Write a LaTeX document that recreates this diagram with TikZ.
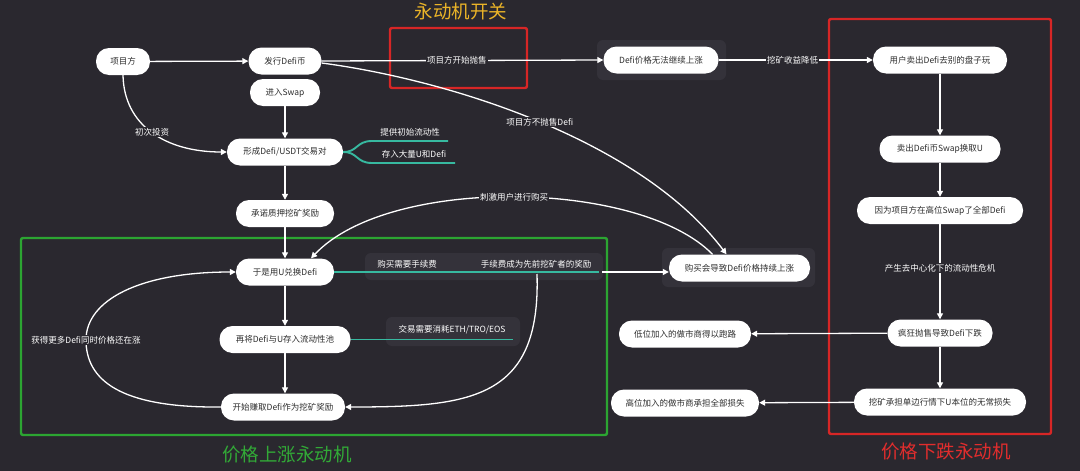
\documentclass[tikz,border=0pt]{standalone}
\usepackage{fontspec}
\setmainfont{Noto Sans CJK SC}
\usetikzlibrary{arrows.meta}
\definecolor{bg}{RGB}{42,40,47}
\definecolor{haloc}{RGB}{52,50,58}
\definecolor{tealc}{RGB}{55,185,160}
\definecolor{gboxc}{RGB}{44,165,50}
\definecolor{rboxc}{RGB}{215,38,38}
\definecolor{ytitle}{RGB}{235,180,40}
\definecolor{gtitle}{RGB}{50,170,55}
\definecolor{rtitle}{RGB}{225,45,45}
\definecolor{ntext}{RGB}{45,45,45}
\begin{document}
\begin{tikzpicture}[x=1pt,y=-1pt,
  box/.style={fill=white, rounded corners=13pt, minimum height=27pt, inner ysep=0pt, inner xsep=0pt,
     text=ntext, font=\fontsize{8.5}{10}\selectfont},
  lbl/.style={fill=bg, text=white, inner sep=1pt, font=\fontsize{8.5}{10}\selectfont},
  plain/.style={text=white, inner sep=1pt, font=\fontsize{8.5}{10}\selectfont},
  arr/.style={draw=white, line width=1.3pt, -{Triangle[width=6pt,length=6pt]}},
  tealln/.style={draw=tealc, line width=1.9pt},
  ttl/.style={font=\fontsize{18.5}{20}\selectfont},
  halo/.style={fill=haloc, rounded corners=6pt},
  frame/.style={line width=2.4pt, rounded corners=2pt}
]
\useasboundingbox (0,0) rectangle (1080,471);
\fill[bg] (0,0) rectangle (1080,471);

% halos
\fill[halo] (597,40) rectangle (726,80);
\fill[halo] (662,248) rectangle (815,287);
\fill[halo] (365,253) rectangle (603,280);
\fill[halo] (386,317) rectangle (520,346);

% frames
\draw[frame, draw=gboxc] (21,238) rectangle (607,435);
\draw[frame, draw=rboxc] (390,28) rectangle (527,88);
\draw[frame, draw=rboxc] (829,19) rectangle (1051,434);

% titles
\node[ttl, text=ytitle] (t1) at (461,12) {永动机开关};
\node[ttl, text=gtitle] (t2) at (287,455) {价格上涨永动机};
\node[ttl, text=rtitle] (t3) at (946,452) {价格下跌永动机};

% main column
\node[box, minimum width=54pt] (xmf) at (123,61.5) {项目方};
\node[box, minimum width=73pt] (fx) at (285,61) {发行Defi币};
\node[box, minimum width=70pt] (swap) at (285,92.5) {进入Swap};
\node[box, minimum width=116pt] (pair) at (285,152) {形成Defi/USDT交易对};
\node[box, minimum width=98pt] (cn) at (285,213.5) {承诺质押挖矿奖励};
\node[box, minimum width=98pt] (dh) at (285,272) {于是用U兑换Defi};
\node[box, minimum width=131pt] (cr) at (285,339.5) {再将Defi与U存入流动性池};
\node[box, minimum width=124pt] (ks) at (283,407) {开始赚取Defi作为挖矿奖励};

% middle / right
\node[box, minimum width=115pt] (wf) at (661,60) {Defi价格无法继续上涨};
\node[box, minimum width=141pt] (gm) at (739.5,268) {购买会导致Defi价格持续上涨};
\node[box, minimum width=134pt] (yh) at (940,60) {用户卖出Defi去别的盘子玩};
\node[box, minimum width=121pt] (mc) at (940,149) {卖出Defi币Swap换取U};
\node[box, minimum width=166pt] (yw) at (940,210.5) {因为项目方在高位Swap了全部Defi};
\node[box, minimum width=105pt] (fk) at (940,333) {疯狂抛售导致Defi下跌};
\node[box, minimum width=172pt] (wk) at (940,402) {挖矿承担单边行情下U本位的无常损失};
\node[box, minimum width=132pt] (dw) at (685,334) {低位加入的做市商得以跑路};
\node[box, minimum width=148pt] (gw) at (685,403) {高位加入的做市商承担全部损失};

% main column arrows
\draw[arr] (xmf) -- (fx);
\draw[arr] (swap) -- (pair);
\draw[arr] (pair) -- (cn);
\draw[arr] (cn) -- (dh);
\draw[arr] (dh) -- (cr);
\draw[arr] (cr.south) -- (cr.south |- ks.north);

\draw[arr] (xmf.south) .. controls (124,125) and (165,152) .. node[lbl, pos=0.5] {初次投资} (pair.west);

% teal fork from pair
\draw[tealln] (pair.east) .. controls (358,152) and (356,141) .. (372,141) -- (448,141);
\draw[tealln] (pair.east) .. controls (358,152) and (356,163) .. (372,163) -- (455,163);
\node[plain] (tl1) at (410,132) {提供初始流动性};
\node[plain] (tl2) at (414,154.5) {存入大量U和Defi};

% top straight line
\draw[arr] (fx.east) -- node[lbl, pos=0.48] {项目方开始抛售} (wf.west);
\draw[arr] (wf.east) -- node[lbl, pos=0.48] {挖矿收益降低} (yh.west);

% curve: not selling
\draw[arr] ([yshift=-2pt]fx.east) .. controls (450,80) and (640,140) .. node[lbl, pos=0.5] {项目方不抛售Defi} ([xshift=-13pt]gm.north);

% curve: stimulate buying
\draw[arr] ([xshift=-27pt]gm.north) .. controls (640,180) and (390,175) .. node[lbl, pos=0.5] {刺激用户进行购买} ([xshift=26pt]dh.north);

% teal line from dh with labels
\draw[tealln] (dh.east) -- (599,272) coordinate (tend);
\node[plain] (fee1) at (407,264) {购买需要手续费};
\node[plain] (fee2) at (536,264) {手续费成为先前挖矿者的奖励};
\draw[arr] ([xshift=3pt]tend) -- (tend -| gm.west);
\coordinate (fstart) at (537,274);
\draw[arr] (fstart) .. controls (541,400) and (470,407) .. (ks.east);

% teal line from cr
\draw[tealln] (cr.east) -- (513,339.5);
\node[plain] (eth) at (452,330) {交易需要消耗ETH/TRO/EOS};

% loop
\draw[arr] (ks.west) .. controls (120,408) and (86,380) .. (86,340)
   node[lbl] {获得更多Defi同时价格还在涨}
   .. controls (86,300) and (140,272) .. (dh.west);

% right column
\draw[arr] (yh) -- (mc);
\draw[arr] (mc) -- (yw);
\draw[arr] (yw) -- node[lbl, pos=0.46] {产生去中心化下的流动性危机} (fk);
\draw[arr] (fk) -- (wk);
\draw[arr] (fk) -- (dw);
\draw[arr] (wk) -- (gw);
\end{tikzpicture}
\end{document}
